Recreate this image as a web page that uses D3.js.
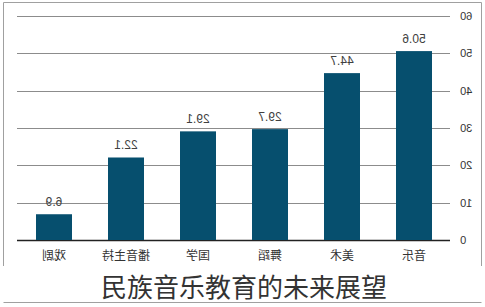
<!DOCTYPE html>
<html>
<head>
<meta charset="utf-8">
<script src="https://cdn.jsdelivr.net/npm/d3@7"></script>
<style>
  body { margin: 0; background: #fff; }
  svg { display: block; }
</style>
</head>
<body>
<svg id="chart" width="485" height="307"></svg>
<script>
"use strict";

// Data (original order, the picture is a mirror of it)
var categories = ["音乐", "美术", "舞蹈", "国学", "播音主持", "戏剧"];
var values = [50.6, 44.7, 29.7, 29.1, 22.1, 6.9];
var tickValues = [0, 10, 20, 30, 40, 50, 60];
var title = "民族音乐教育的未来展望";

window.onload = function() {
  var svg = d3.select("#chart");
  var W = 485, H = 307;

  // frame
  svg.append("path")
    .attr("d", "M3.5,266 V2.5 H481.5 V266 M3.5,302.5 H481.5")
    .attr("fill", "none")
    .attr("stroke", "#a0a0a0")
    .attr("stroke-width", 1);

  // chart drawn normally, then flipped left-right
  var g = svg.append("g")
    .attr("transform", "translate(" + W + ",0) scale(-1,1)");

  var x = d3.scaleBand()
    .domain(categories)
    .range([35, 467])
    .paddingInner(0.5)
    .paddingOuter(0.25);

  var y = d3.scaleLinear()
    .domain([0, 60])
    .range([240, 16]);

  // gridlines
  g.selectAll("line.grid")
    .data(tickValues)
    .enter().append("line")
    .attr("class", "grid")
    .attr("x1", 35)
    .attr("x2", 468)
    .attr("y1", function(d) { return Math.round(y(d)) + 0.5; })
    .attr("y2", function(d) { return Math.round(y(d)) + 0.5; })
    .attr("stroke", function(d) { return d === 0 ? "#222" : "#8c8c8c"; })
    .attr("stroke-width", function(d) { return d === 0 ? 1.3 : 1; });

  // tick labels
  g.selectAll("text.tick")
    .data(tickValues)
    .enter().append("text")
    .attr("class", "tick")
    .attr("x", 25)
    .attr("y", function(d) { return y(d); })
    .attr("dy", "0.35em")
    .attr("text-anchor", "end")
    .attr("font-family", "Liberation Sans, Arial, sans-serif")
    .attr("font-size", 11)
    .attr("fill", "#333")
    .text(function(d) { return d; });

  // bars
  g.selectAll("rect.bar")
    .data(values)
    .enter().append("rect")
    .attr("class", "bar")
    .attr("x", function(d, i) { return x(categories[i]); })
    .attr("width", x.bandwidth())
    .attr("y", function(d) { return y(d); })
    .attr("height", function(d) { return y(0) - y(d); })
    .attr("fill", "#064f6e");

  // value labels
  g.selectAll("text.val")
    .data(values)
    .enter().append("text")
    .attr("class", "val")
    .attr("x", function(d, i) { return x(categories[i]) + x.bandwidth() / 2; })
    .attr("y", function(d) { return y(d) - 8; })
    .attr("text-anchor", "middle")
    .attr("font-family", "Liberation Sans, Arial, sans-serif")
    .attr("font-size", 12)
    .attr("fill", "#404040")
    .text(function(d) { return d; });

  // category labels
  g.selectAll("text.cat")
    .data(categories)
    .enter().append("text")
    .attr("class", "cat")
    .attr("x", function(d) { return x(d) + x.bandwidth() / 2; })
    .attr("y", 256)
    .attr("dy", "0.35em")
    .attr("text-anchor", "middle")
    .attr("font-family", "Noto Sans CJK SC, sans-serif")
    .attr("font-size", 12)
    .attr("fill", "#333")
    .text(function(d) { return d; });

  // title (not flipped)
  svg.append("text")
    .attr("x", 244)
    .attr("y", 288)
    .attr("dy", "0.35em")
    .attr("text-anchor", "middle")
    .attr("font-family", "Noto Sans CJK SC, sans-serif")
    .attr("font-size", 26)
    .attr("fill", "#333")
    .text(title);
};
</script>
</body>
</html>
